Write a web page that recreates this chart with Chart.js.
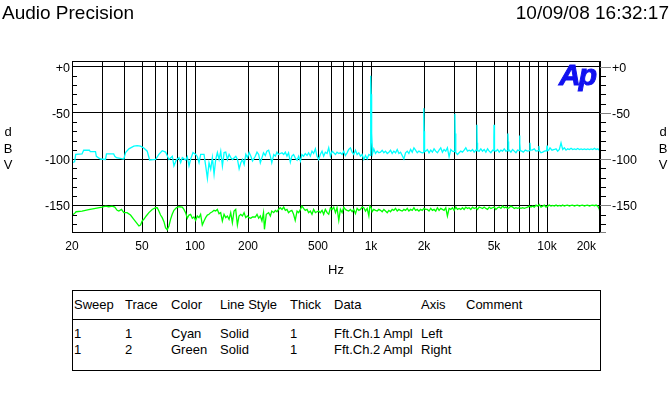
<!DOCTYPE html>
<html>
<head>
<meta charset="utf-8">
<script src="https://cdn.jsdelivr.net/npm/chart.js@4.4.1/dist/chart.umd.min.js"></script>
<style>
  html,body{margin:0;padding:0;background:#fff;}
  body{width:672px;height:396px;position:relative;overflow:hidden;font-family:"Liberation Sans",Arial,sans-serif;color:#000;}
  #plot{position:absolute;left:0;top:0;}
  .hdr{position:absolute;top:3px;font-size:19px;line-height:19px;white-space:nowrap;}
  .unit{position:absolute;width:16px;text-align:center;font-size:13px;line-height:16px;}
  #logo{position:absolute;left:559px;top:60px;font:italic bold 30px/30px "Liberation Sans",Arial,sans-serif;letter-spacing:-2px;color:#1010f0;-webkit-text-stroke:1px #1010f0;}
  #tbl{position:absolute;left:72px;top:290px;width:529px;height:81px;box-sizing:border-box;border:1px solid #000;}
  #tbl .sep{position:absolute;left:0;right:0;top:28px;border-top:1px solid #000;}
  .cell{position:absolute;font-size:13px;line-height:15px;white-space:nowrap;}
</style>
</head>
<body>
<canvas id="plot" width="672" height="290"></canvas>
<div class="hdr" style="left:2px">Audio Precision</div>
<div class="hdr" style="right:3px">10/09/08 16:32:17</div>
<div id="logo">Ap</div>
<div class="unit" style="left:0;top:124px">d</div>
<div class="unit" style="left:0;top:141px">B</div>
<div class="unit" style="left:0;top:157px">V</div>
<div class="unit" style="left:655px;top:124px">d</div>
<div class="unit" style="left:655px;top:141px">B</div>
<div class="unit" style="left:655px;top:157px">V</div>
<div id="tbl"><div class="sep"></div></div>
<script>
/* ---------- data: [Hz, dBV] ---------- */
const cyanLow = [[20,-104],[20.7,-103],[21,-95],[22.8,-94.5],[23.3,-90.5],[25.1,-90.5],[25.4,-92],[27.2,-92],[27.5,-97],[29,-100],[31,-100.5],[31.4,-94.5],[34.5,-94.5],[35,-97],[35.8,-98.5],[39.4,-100],[40.3,-93],[42.1,-89],[44.9,-86],[46.9,-85.5],[49,-86],[51.2,-88],[53.5,-91.5],[55.2,-101],[59.7,-100.5],[62.3,-95],[65.1,-91],[68,-92.5],[71.1,-100.5],[74.3,-97],[75.9,-107.5],[78.3,-101],[81.1,-98.5],[82.9,-104],[84.7,-98.5],[88.5,-101],[90.4,-97.5],[92.4,-107.5],[94.5,-100],[97.4,-93],[100.9,-95],[103.1,-97.5],[105.4,-104],[107.7,-95],[112.5,-95],[115,-107.5],[117.6,-121],[120.1,-104],[122.8,-111],[125.5,-98.5],[128.3,-116.5],[131.1,-100.5],[134,-93],[137,-100.5],[140,-91.5],[143.1,-107.5],[146.3,-93],[149.5,-92.5],[152.8,-100.5],[156.2,-95],[159.7,-98.5],[163.2,-100.5],[170.5,-97],[174.3,-100.5],[178.1,-110.5],[182.1,-104],[186.1,-100.5],[190.2,-106],[194.4,-95],[198.7,-98.5],[203,-93],[207.6,-97],[212.2,-102]];
const cyanMid = [[220,-97],[225,-92.6],[230,-95.1],[235,-104.1],[240,-98.7],[245,-93.3],[251,-96.2],[256,-91.5],[262,-90.5],[268,-96.9],[273,-104.1],[280,-95.1],[286,-96.9],[292,-92.6],[298,-95.1],[305,-94],[312,-93.3],[319,-95.1],[326,-92.6],[333,-96.9],[340,-93.3],[348,-103.4],[355,-96.9],[363,-95.1],[371,-98.7],[380,-101.2],[388,-96.9],[397,-102.3],[405,-95.1],[414,-96.9],[423,-94],[433,-96.2],[442,-93.3],[452,-96.9],[462,-91.5],[472,-94],[483,-89],[493,-96.9],[504,-100.5],[515,-95.1],[527,-91.5],[538,-96.9],[550,-92.6],[563,-94],[575,-87.9],[588,-96.9],[601,-91.5],[614,-93.3],[628,-95.1],[641,-92.6],[656,-94],[670,-93.3],[685,-95.1],[700,-91.5],[715,-96.2],[731,-93.3],[747,-89.7],[764,-87.9],[781,-92.6],[798,-95.1],[816,-90.5],[834,-95.1],[852,-93.3],[871,-96.9],[890,-95.1],[910,-100.5],[930,-96.2],[951,-99.8],[972,-95.1],
  [990,-96],[996,-10],[1002,-30],[1008,-72],[1020,-94],
  [1037,-89],[1060,-94],[1084,-91.5],[1108,-93.3],[1132,-92.6],[1157,-90.5],[1183,-93.3],[1209,-91.5],[1236,-94],[1263,-92.6],[1291,-90.5],[1319,-94],[1348,-91.5],[1378,-93.3],[1409,-89.7],[1440,-94],[1472,-92.6],[1504,-96.2],[1537,-99.8],[1571,-93.3],[1606,-91.5],[1641,-94],[1678,-89.7],[1715,-92.6],[1753,-87.9],[1791,-90.5],[1831,-93.3],[1871,-91.5],[1913,-92.6],[1955,-93.3],
  [1980,-93],[1992,-70],[1998,-45],[2004,-70],[2015,-92]];
const cyanHigh = [[2045,-91.5],[2090,-89.7],[2136,-93.3],[2184,-90.4],[2232,-92.6],[2281,-89],[2332,-91.5],[2383,-93.3],[2436,-90.4],[2490,-87.9],[2545,-92.6],[2601,-89.7],[2659,-91.5],[2717,-87.9],[2777,-97.6],[2839,-89.7],[2901,-91.5],
  [2975,-92],[2992,-72.5],[3000,-51],[3008,-72.5],[3030,-93],
  [3098,-95.1],[3166,-93.3],[3236,-91.5],[3308,-92.6],[3381,-90.4],[3456,-87.9],[3532,-91.5],[3610,-90.4],[3690,-91.5],[3772,-89.7],[3855,-92.6],[3940,-90.4],
  [3975,-91],[3990,-82.5],[4000,-63],[4010,-82.5],[4030,-91],
  [4116,-91.5],[4207,-89],[4300,-91.5],[4395,-89.7],[4492,-92.6],[4592,-89],[4693,-91.5],[4797,-93.3],[4903,-90.4],
  [4960,-91],[4990,-77],[5000,-63],[5010,-77],[5050,-91],
  [5122,-91.5],[5235,-89.7],[5351,-92.6],[5469,-90.4],[5590,-91.5],[5714,-89],[5840,-91.5],
  [5960,-91],[5990,-81],[6000,-72.5],[6015,-81],[6050,-91],
  [6101,-90.4],[6235,-92.6],[6373,-89.7],[6514,-91.5],[6658,-93.3],[6805,-90.4],
  [6950,-91],[6985,-83],[7000,-74.5],[7015,-83],[7050,-91],
  [7203,-91.5],[7330,-92.6],[7525,-90.4],[7759,-91.5],
  [7950,-91],[8000,-82.5],[8050,-90],
  [8212,-90.4],[8467,-89],[8654,-91.5],
  [8950,-91],[9000,-86],[9050,-91],
  [9241,-93.3],[9445,-92.6],[9654,-91.5],
  [9950,-91],[10000,-85.5],[10050,-91],
  [10218,-90.4],[10400,-87.9],[10675,-90.4],[11006,-89.7],[11250,-89],[11498,-91.5],[11752,-89.7],[12012,-82.5],[12277,-89.7],[12549,-87.9],[12826,-90.4],[13109,-89],[13399,-89.7],[13695,-88.3],[13997,-89.7],[14307,-89],[14623,-89.7],[14946,-88.6],[15276,-89.7],[15614,-89],[15959,-89.7],[16311,-89],[16672,-89.7],[17040,-89],[17416,-89.7],[17801,-89],[18194,-89.7],[18597,-88.3],[19007,-89.7],[19427,-89],[19856,-90.4],[20000,-93.3]];

const greenLow = [[20,-160.6],[20.4,-159.8],[20.9,-158],[21.1,-157],[22.8,-156.3],[24.9,-154.8],[27.2,-153.4],[29.6,-152],[31,-150.9],[32.4,-151.6],[33.8,-150.9],[35,-152],[36.1,-155.5],[36.9,-156.3],[38.2,-154.5],[39.4,-158],[41.1,-158],[43,-160.6],[44.9,-165.2],[46.9,-169.9],[48,-172.4],[49,-171.3],[50.1,-167],[51.2,-165.2],[52.8,-161.6],[54.7,-158],[57.1,-154.5],[59.7,-152.7],[61,-152.7],[62.3,-156.3],[63.7,-160.6],[65.1,-163.4],[66.6,-167.7],[68,-174.2],[69.5,-176.4],[71.1,-172.4],[72.6,-165.2],[74.2,-159.8],[75.9,-155.5],[78.3,-152.7],[81,-151.6],[84.6,-152],[86.5,-154.5],[88.4,-158],[90.4,-164.1],[92.4,-160.6],[94.4,-159.8],[96.5,-164.1],[98.6,-162.7],[100.8,-166.3],[103,-161.6],[105.3,-163.4],[107.6,-159.8],[110,-171.3],[112.5,-167],[114.9,-163.4],[117.5,-160.6],[120.1,-159.8],[122.7,-158],[125.4,-157],[128.2,-155.5],[131,-156.3],[133.9,-154.5],[136.9,-159.1],[139.9,-158],[143,-167],[146.2,-159.8],[149.4,-163.4],[152.7,-161.6],[156.1,-165.2],[159.5,-158],[163,-168.8],[166.6,-156.3],[170.3,-154.5],[174.1,-171.3],[177.9,-161.6],[181.9,-159.8],[185.9,-161.6],[190,-158],[194.2,-163.4],[198.5,-161.6],[202.9,-163.4],[207.4,-164.1],[212,-162.7]];
const greenMid = [[220,-162.7],[225,-159.8],[230,-164.1],[235,-161.6],[240,-167],[245,-158],[248,-176],[254,-159.8],[262,-158],[268,-161.6],[273,-156.3],[280,-158],[286,-155.5],[292,-157],[298,-154.5],[305,-152.7],[312,-154.5],[319,-152],[326,-155.5],[333,-154.5],[340,-158],[348,-156.3],[355,-155.5],[363,-159.8],[371,-166.3],[380,-156.3],[388,-158],[397,-154.5],[405,-150.9],[414,-153.4],[423,-155.5],[433,-154.5],[442,-158],[452,-156.3],[462,-159.8],[472,-154.5],[483,-158],[493,-157],[504,-156.3],[515,-158],[527,-155.5],[538,-159.8],[550,-154.5],[563,-158],[575,-159.8],[588,-152.7],[601,-154.5],[614,-152],[628,-158],[641,-152.7],[656,-166.3],[670,-154.5],[685,-158],[700,-152],[715,-154.5],[731,-155.5],[747,-156.3],[764,-154.5],[781,-157],[798,-154.5],[816,-159.1],[834,-153.4],[852,-155.5],[871,-154.5],[890,-152],[910,-152.7],[930,-156.3],[951,-153.4],[972,-161.6],[985,-150.9],[1003,-152.7],[1015,-157],[1037,-154.5],[1060,-155.5],[1084,-156.3],[1108,-154.5],[1132,-155.5],[1157,-157],[1183,-154.5],[1209,-156.3],[1236,-158],[1263,-155.5],[1291,-157],[1319,-154.5],[1348,-155.5],[1378,-153.4],[1409,-156.3],[1440,-154.5],[1472,-155.5],[1504,-156.3],[1537,-154.5],[1571,-155.5],[1606,-153.4],[1641,-156.3],[1678,-154.5],[1715,-155.5],[1753,-152.7],[1791,-155.5],[1831,-154.5],[1871,-156.3],[1913,-154.5],[1955,-155.5],[1998,-153.4],[2042,-154.5]];
const greenHigh = [[2090,-154.5],[2136,-156.3],[2184,-153.4],[2232,-155.5],[2281,-154.5],[2332,-156.3],[2383,-152.7],[2436,-155.5],[2490,-153.4],[2545,-154.5],[2601,-155.5],[2659,-152.7],[2717,-161.6],[2777,-153.4],[2839,-154.5],[2901,-152.7],[2965,-155.5],[3031,-152],[3098,-154.5],[3166,-153.4],[3236,-154.5],[3308,-152.7],[3381,-154.5],[3456,-152],[3532,-153.4],[3610,-152.7],[3690,-154.5],[3772,-152],[3855,-153.4],[3940,-152.7],[4027,-154.5],[4116,-152],[4207,-152.7],[4300,-153.4],[4395,-152],[4492,-153.4],[4592,-154.5],[4693,-152],[4797,-153.4],[4903,-152.7],[5011,-152],[5122,-154.5],[5235,-152.7],[5351,-152],[5469,-153.4],[5590,-150.9],[5714,-152.7],[5840,-152],[5969,-153.4],[6101,-152.7],[6235,-150.9],[6373,-152],[6514,-153.4],[6658,-152.7],[6805,-153.4],[6955,-152.7],[7109,-153.4],[7266,-152.7],[7427,-153.4],[7591,-152.7],[7759,-152],[7930,-150.9],[8105,-152],[8284,-150.9],[8467,-152],[8654,-149.8],[8846,-150.9],[9041,-149.1],[9241,-152],[9445,-150.9],[9654,-149.8],[9867,-152],[10085,-150.9],[10308,-149.8],[10536,-150.9],[10769,-150.1],[11006,-150.9],[11250,-149.8],[11498,-150.9],[11752,-150.1],[12012,-150.9],[12277,-149.8],[12549,-150.9],[12826,-150.1],[13109,-149.8],[13399,-150.9],[13695,-150.1],[13997,-149.8],[14307,-150.9],[14623,-150.1],[14946,-149.8],[15276,-150.9],[15614,-150.1],[15959,-149.8],[16311,-150.9],[16672,-150.1],[17040,-149.8],[17416,-150.9],[17801,-150.1],[18194,-149.8],[18597,-150.5],[19007,-149.8],[19427,-150.9],[19856,-154.5],[20000,-159.8]];

/* ---------- axes ---------- */
const xGrid = [20,30,40,50,60,70,80,90,100,200,300,400,500,600,700,800,900,1000,2000,3000,4000,5000,6000,7000,8000,9000,10000,20000];
const xLabelVals = [20,50,100,200,500,1000,2000,5000,10000,20000];
const xLabelText = ['20','50','100','200','500','1k','2k','5k','10k','20k'];
const yMajor = [0,-50,-100,-150];
const yLabelText = ['+0','-50','-100','-150'];
const yMinor = [-170,-160,-140,-130,-120,-110,-90,-80,-70,-60,-40,-30,-20,-10];

/* ---------- legend table ---------- */
const tableHead = ['Sweep','Trace','Color','Line Style','Thick','Data','Axis','Comment'];
const tableRows = [
  ['1','1','Cyan','Solid','1','Fft.Ch.1 Ampl','Left',''],
  ['1','2','Green','Solid','1','Fft.Ch.2 Ampl','Right','']
];
const colX = [74,125,171,220,290,334,421,466];
const rowY = [304,333,349];

function toXY(pairs){ return pairs.map(p => ({x:p[0], y:p[1]})); }

const decor = {
  id:'decor',
  afterDraw(chart){
    const {ctx, chartArea:a, scales} = chart;
    const x = scales.x, y = scales.y;
    ctx.save();
    ctx.lineWidth = 1;
    ctx.strokeStyle = '#000';
    ctx.strokeRect(a.left+0.5, a.top+0.5, a.right-a.left-1, a.bottom-a.top-1);
    // minor ticks
    ctx.beginPath();
    yMinor.forEach(v => {
      const py = Math.round(y.getPixelForValue(v))+0.5;
      ctx.moveTo(a.left, py); ctx.lineTo(a.left+5, py);
      ctx.moveTo(a.right, py); ctx.lineTo(a.right+6, py);
    });
    ctx.stroke();
    ctx.strokeStyle = '#808080';
    ctx.beginPath();
    yMajor.forEach(v => {
      const py = Math.round(y.getPixelForValue(v))+0.5;
      ctx.moveTo(a.right, py); ctx.lineTo(a.right+11, py);
    });
    ctx.moveTo(a.right, a.bottom-0.5); ctx.lineTo(a.right+6, a.bottom-0.5);
    ctx.stroke();
    // y labels
    ctx.fillStyle = '#000';
    ctx.font = '12.5px "Liberation Sans", Arial, sans-serif';
    ctx.textBaseline = 'middle';
    yMajor.forEach((v,i) => {
      const py = y.getPixelForValue(v)+1.5;
      ctx.textAlign = 'right'; ctx.fillText(yLabelText[i], a.left-2, py);
      ctx.textAlign = 'left'; ctx.fillText(yLabelText[i], a.right+12, py);
    });
    // x labels
    ctx.font = '12px "Liberation Sans", Arial, sans-serif';
    xLabelVals.forEach((v,i) => {
      const px = x.getPixelForValue(v);
      const last = i === xLabelVals.length-1;
      ctx.textAlign = last ? 'right' : 'center';
      ctx.fillText(xLabelText[i], last ? px-4 : px, 247);
    });
    ctx.font = '13px "Liberation Sans", Arial, sans-serif';
    ctx.textAlign = 'center';
    ctx.fillText('Hz', (a.left+a.right)/2, 270);
    ctx.restore();
  }
};

new Chart(document.getElementById('plot'), {
  type:'line',
  data:{datasets:[
    {label:'Fft.Ch.1 Ampl', data:toXY(cyanLow.concat(cyanMid, cyanHigh)), borderColor:'#00ffff', yAxisID:'y'},
    {label:'Fft.Ch.2 Ampl', data:toXY(greenLow.concat(greenMid, greenHigh)), borderColor:'#00ff00', yAxisID:'y2'}
  ]},
  options:{
    responsive:false, animation:false, devicePixelRatio:1,
    layout:{padding:{top:61, left:0, right:0, bottom:0}},
    plugins:{legend:{display:false}, tooltip:{enabled:false}},
    elements:{point:{radius:0}, line:{borderWidth:1.3, tension:0}},
    scales:{
      x:{type:'logarithmic', min:20, max:20000, z:1,
        afterBuildTicks:s => { s.ticks = xGrid.map(v => ({value:v})); },
        afterFit:s => { s.height = 57; },
        ticks:{display:false}, grid:{color:'#000', lineWidth:1, drawTicks:false}, border:{display:false}},
      y:{type:'linear', position:'left', min:-180, max:6, z:1,
        afterBuildTicks:s => { s.ticks = yMajor.map(v => ({value:v})); },
        afterFit:s => { s.width = 72; },
        ticks:{display:false}, grid:{color:'#000', lineWidth:1, drawTicks:false}, border:{display:false}},
      y2:{type:'linear', position:'right', min:-180, max:6,
        afterFit:s => { s.width = 72; },
        ticks:{display:false}, grid:{display:false, drawTicks:false}, border:{display:false}}
    }
  },
  plugins:[decor]
});

/* build table cells */
const tbl = document.getElementById('tbl');
function addCell(text, x, cy){
  const d = document.createElement('div');
  d.className = 'cell';
  d.textContent = text;
  d.style.left = (x-73) + 'px';
  d.style.top = (cy-291-7.5) + 'px';
  tbl.appendChild(d);
}
tableHead.forEach((t,i) => addCell(t, colX[i], rowY[0]));
tableRows.forEach((r,j) => r.forEach((t,i) => { if (t) addCell(t, colX[i], rowY[j+1]); }));
</script>
</body>
</html>
